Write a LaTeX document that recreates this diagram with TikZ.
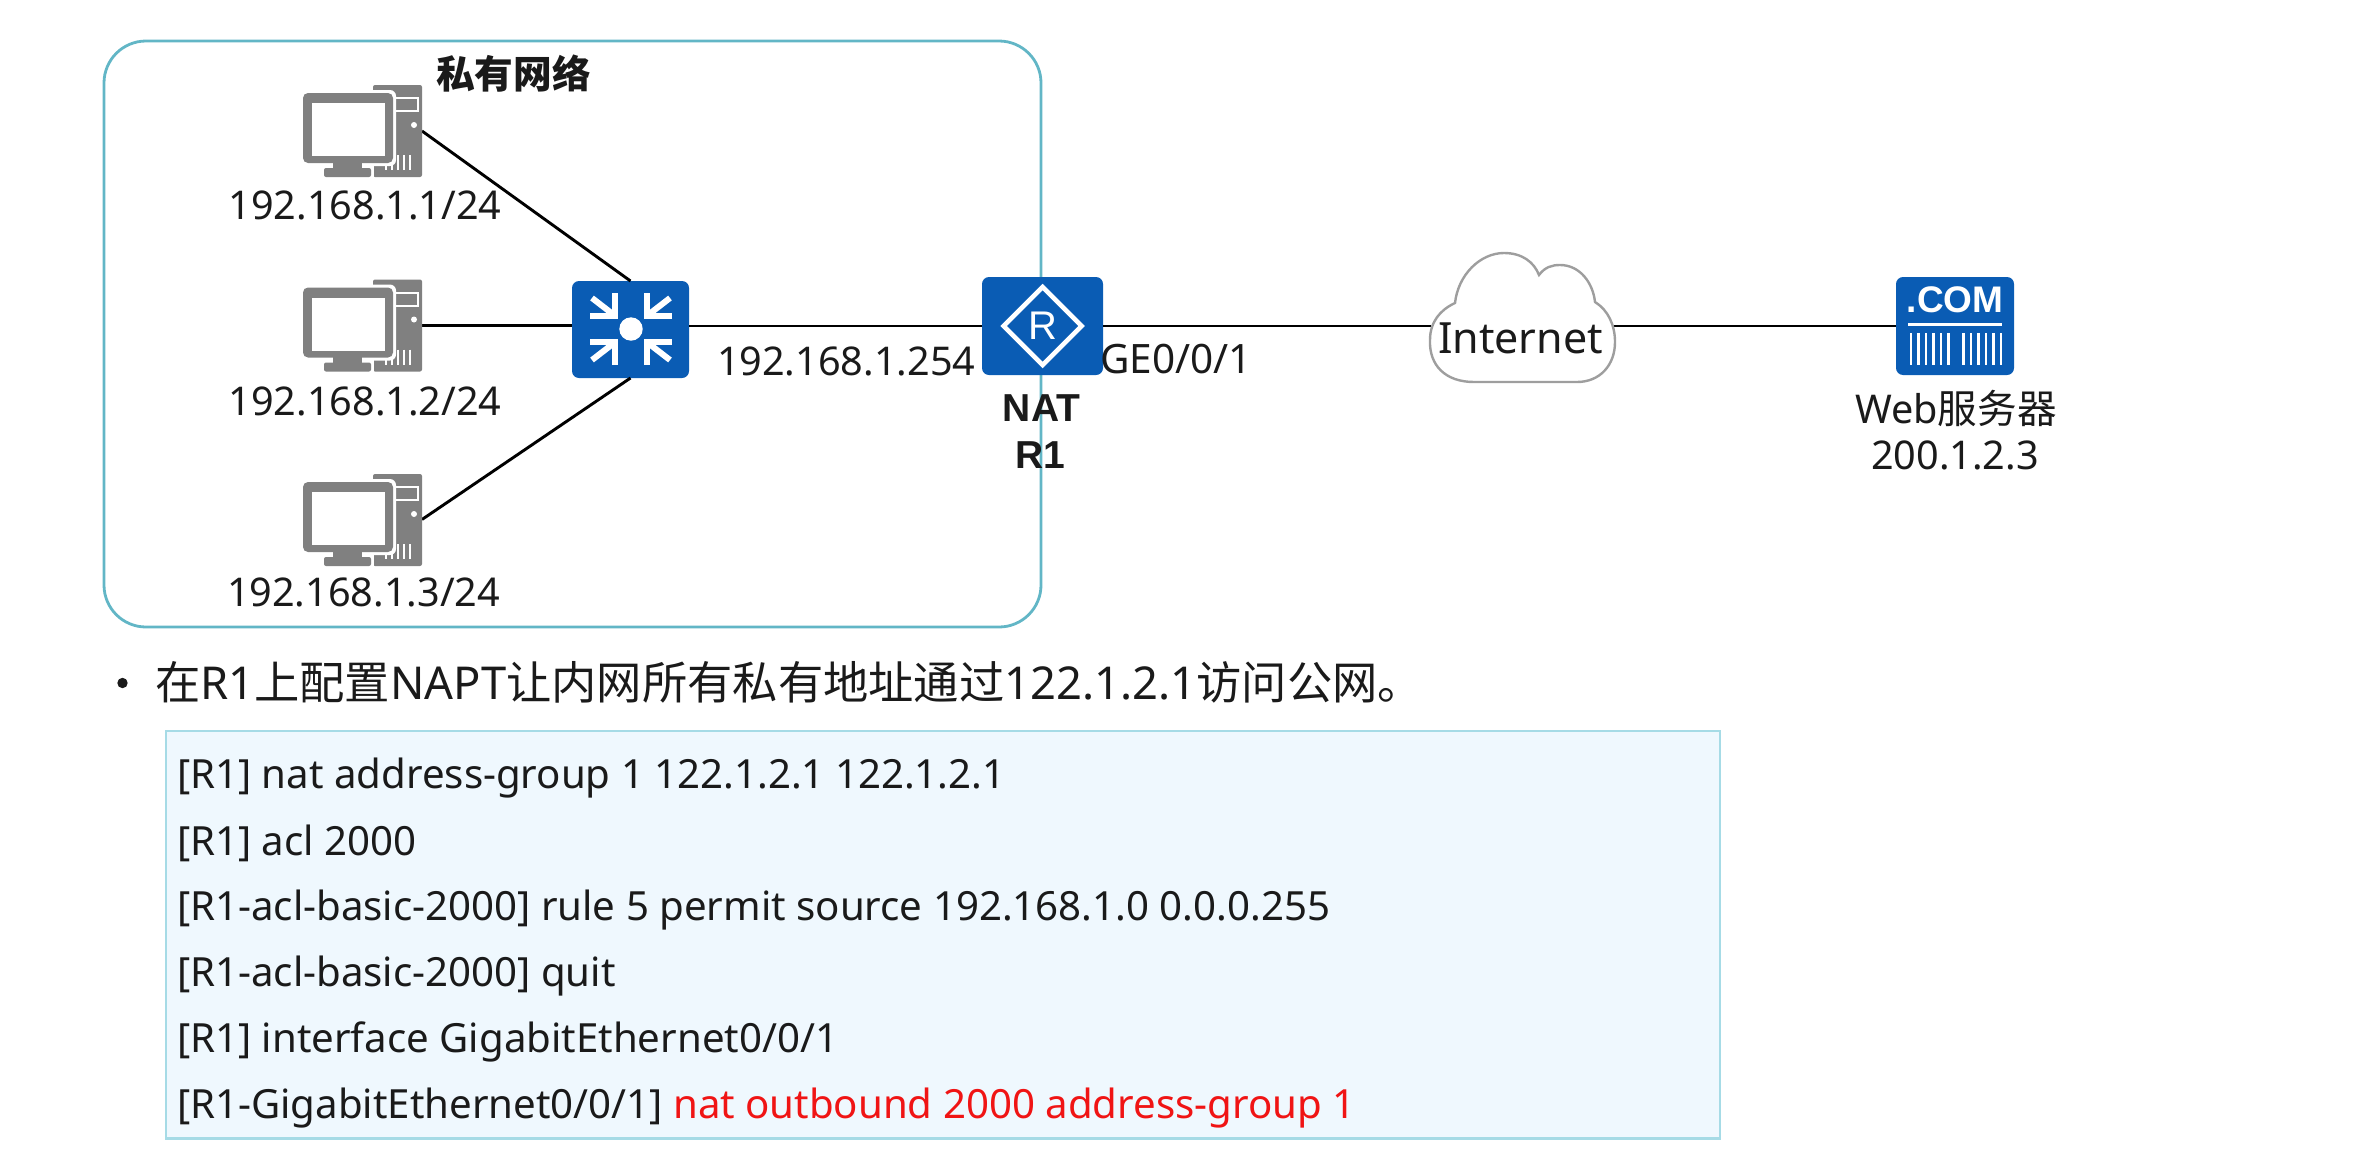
\documentclass[tikz,border=0pt]{standalone}
\usepackage{fontspec}
\setmainfont{Noto Sans}
\newfontfamily\cjk{Noto Sans CJK SC}
\newfontfamily\arialf{Liberation Sans}
\definecolor{iconblue}{HTML}{0A5CB4}
\definecolor{pcgray}{HTML}{808080}
\definecolor{netedge}{HTML}{62B6C6}
\definecolor{codeedge}{HTML}{A6DBE6}
\definecolor{codefill}{HTML}{EFF8FE}
\definecolor{inktext}{HTML}{1A1A1A}
\definecolor{cmdred}{HTML}{F01414}
\newcommand{\pcicon}[1]{%
\begin{scope}[shift={(0,#1)}]
  \fill[pcgray,rounded corners=2pt] (373,85) rectangle (422,177);
  \draw[white,line width=2pt] (395,98) rectangle (418,111);
  \fill[white] (414,125) circle (3);
  \foreach \vx in {386,392,398,404,410} \draw[white,line width=1.8pt] (\vx,155) -- (\vx,170);
  \fill[white,rounded corners=6pt] (300,90) rectangle (396,166);
  \fill[white] (321,165) rectangle (374,179);
  \fill[pcgray] (333,162) rectangle (362,169);
  \fill[pcgray,rounded corners=2pt] (324,168) rectangle (371,177);
  \fill[pcgray,rounded corners=5pt] (303,93) rectangle (393,163);
  \fill[white] (312,103) rectangle (385,156);
\end{scope}}
\tikzset{
  x=1pt,y=-1pt,
  hotspot/.style={inner sep=0pt,outer sep=0pt,rectangle},
  iconbase/.style={hotspot,fill=iconblue,rounded corners=7pt},
  wire/.style={draw=black,line width=2.9pt},
  lab/.style={inner sep=0pt,outer sep=0pt,text=inktext,font=\fontsize{39.6}{45}\selectfont,anchor=base west},
  labc/.style={lab,anchor=base},
  boldlab/.style={labc,font=\arialf\bfseries\fontsize{39}{45}\selectfont},
  codeline/.style={inner sep=0pt,outer sep=0pt,text=inktext,font=\fontsize{40.2}{46}\selectfont,anchor=base west},
}
\begin{document}
\begin{tikzpicture}
\useasboundingbox (0,0) rectangle (2356,1162);
% private network frame
\draw[netedge,line width=2.8pt,rounded corners=42pt] (104,41) rectangle (1041,627);
% device nodes
\node[hotspot,minimum width=119pt,minimum height=92pt] (pc1) at (362.5,131) {};
\node[hotspot,minimum width=119pt,minimum height=92pt] (pc2) at (362.5,325.5) {};
\node[hotspot,minimum width=119pt,minimum height=92pt] (pc3) at (362.5,519.5) {};
\node[iconbase,minimum width=117pt,minimum height=97pt] (sw) at (630.5,329.5) {};
\node[iconbase,minimum width=121pt,minimum height=98pt] (r1) at (1042.5,326) {};
\node[iconbase,minimum width=118pt,minimum height=98pt] (srv) at (1955,326) {};
\node[hotspot,minimum width=182pt,minimum height=129pt] (cloud) at (1522,317.5) {};
% connectors
\draw[wire] (pc1.east) -- (sw.north);
\draw[wire] (pc2.east) -- (pc2.east -| sw.west);
\draw[wire] (pc3.east) -- (sw.south);
\draw[wire] (sw.east |- r1.west) -- (r1.west);
\draw[wire] (r1.east) -- (r1.east -| cloud.west);
\draw[wire] (srv.west) -- (srv.west -| cloud.east);
% computers
\pcicon{0}
\pcicon{194.5}
\pcicon{389}
% switch glyph
\begin{scope}[shift={(631,329)}]
  \fill[white] (0,0) circle (11.7);
  \foreach \sx/\sy in {1/1,-1/1,1/-1,-1/-1} {
    \begin{scope}[xscale=\sx,yscale=\sy]
      \draw[white,line width=6pt,miter limit=10] (-15.7,-36) -- (-15.7,-12.7) -- (-41,-12.7);
      \draw[white,line width=6pt] (-39,-31) -- (-17,-14);
    \end{scope}
  }
\end{scope}
% router glyph
\draw[white,line width=4.6pt,miter limit=10] (1003.5,326) -- (1042.5,287) -- (1081.5,326) -- (1042.5,365) -- cycle;
\node[inner sep=0pt,text=white,font=\arialf\fontsize{40}{45}\selectfont] (rlet) at (1042.5,326) {R};
% server glyph
\node[inner sep=0pt,anchor=base,text=white,font=\arialf\bfseries\fontsize{37}{40}\selectfont] (com) at (1955,312) {.COM};
\draw[white,line width=3pt] (1908,324) -- (2002,324);
\foreach \bx in {1911,1918.5,1926,1933.5,1941,1948.5,1963.5,1971,1978.5,1986,1993.5,2001}
  \draw[white,line width=2.4pt] (\bx,333) -- (\bx,365);
% cloud outline
\draw[draw=black!38,line width=2.4pt,fill=white]
  (1474,382) .. controls (1445,382) and (1429,365) .. (1430,340)
  .. controls (1430,322) and (1440,310) .. (1455,303)
  .. controls (1458,275) and (1480,253) .. (1504,253)
  .. controls (1522,253) and (1534,262) .. (1539,275)
  .. controls (1545,267) and (1552,265) .. (1560,265)
  .. controls (1580,265) and (1593,283) .. (1595,302)
  .. controls (1608,310) and (1615,325) .. (1615,342)
  .. controls (1615,365) and (1600,382) .. (1577,382) -- cycle;
% labels
\node[lab,font=\cjk\bfseries\fontsize{38.7}{45}\selectfont] (title) at (436,88) {私有网络};
\node[lab] (ip1) at (228.5,219.4) {192.168.1.1/24};
\node[lab] (ip2) at (228.5,415.8) {192.168.1.2/24};
\node[lab] (ip3) at (227,606) {192.168.1.3/24};
\node[lab] (gw) at (717,375.5) {192.168.1.254};
\node[lab,font=\fontsize{40.5}{45}\selectfont] (ge) at (1100,373) {GE0/0/1};
\node[boldlab] (nat) at (1041.5,421) {NAT};
\node[boldlab] (rname) at (1040,468) {R1};
\node[lab,font=\fontsize{43}{50}\selectfont] (inet) at (1438,353) {Internet};
\node[labc] (web) at (1956,423) {Web{\cjk 服务器}};
\node[labc] (webip) at (1955,469) {200.1.2.3};
% bullet
\fill[inktext] (122.5,683) circle (5.2);
\node[lab,font=\fontsize{45.3}{52}\selectfont] (goal) at (155,699) {{\cjk 在}R1{\cjk 上配置}NAPT{\cjk 让内网所有私有地址通过}122.1.2.1{\cjk 访问公网。}};
% code box
\draw[draw=codeedge,fill=codefill,line width=2.2pt] (166,731) rectangle (1720,1138.5);
\node[codeline] (c1) at (177,788) {[R1] nat address-group 1 122.1.2.1 122.1.2.1};
\node[codeline] (c2) at (177,855) {[R1] acl 2000};
\node[codeline] (c3) at (177,920.5) {[R1-acl-basic-2000] rule 5 permit source 192.168.1.0 0.0.0.255};
\node[codeline] (c4) at (177,986) {[R1-acl-basic-2000] quit};
\node[codeline] (c5) at (177,1052) {[R1] interface GigabitEthernet0/0/1};
\node[codeline] (c6) at (177,1118) {[R1-GigabitEthernet0/0/1] \textcolor{cmdred}{nat outbound 2000 address-group 1}};
\end{tikzpicture}
\end{document}
